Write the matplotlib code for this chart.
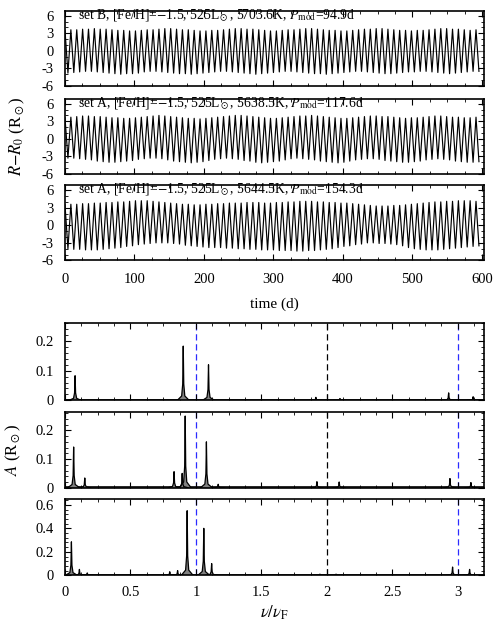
import numpy as np
import matplotlib.pyplot as plt
from matplotlib.ticker import MultipleLocator, FuncFormatter

plt.rcParams['font.family'] = ['Liberation Serif', 'DejaVu Serif']
plt.rcParams['mathtext.fontset'] = 'stix'
plt.rcParams['axes.unicode_minus'] = False

# ---- radius curves: extrema of each pulsation cycle (R - R0, Rsun)
period = 8.45   # days between successive maxima
t_start = 0.0

peaks_B = [3.5, 3.6, 3.6, 3.7, 3.7, 3.8, 3.7, 3.7, 3.6, 3.5, 3.5, 3.4, 3.4, 3.5, 3.6,
           3.6, 3.7, 3.8, 3.8, 3.7, 3.6, 3.6, 3.5, 3.4, 3.4, 3.5, 3.5, 3.6, 3.7, 3.8,
           3.8, 3.7, 3.7, 3.6, 3.5, 3.4, 3.4, 3.5, 3.6, 3.6, 3.7, 3.8, 3.8, 3.7, 3.6,
           3.5, 3.5, 3.4, 3.4, 3.5, 3.6, 3.7, 3.7, 3.8, 3.8, 3.7, 3.6, 3.5, 3.5, 3.4,
           3.5, 3.5, 3.6, 3.7, 3.8, 3.8, 3.7, 3.7, 3.6, 3.5, 3.6]
troughs_B = [-3.8, -3.7, -3.6, -3.5, -3.5, -3.6, -3.7, -3.8, -3.9, -4.0, -3.9, -3.9, -3.8,
             -3.6, -3.5, -3.5, -3.6, -3.7, -3.8, -3.9, -3.9, -4.0, -3.9, -3.8, -3.7, -3.6,
             -3.5, -3.5, -3.6, -3.7, -3.8, -3.9, -4.0, -3.9, -3.8, -3.7, -3.6, -3.5, -3.5,
             -3.6, -3.7, -3.8, -3.9, -3.9, -4.0, -3.9, -3.8, -3.7, -3.6, -3.5, -3.5, -3.6,
             -3.7, -3.8, -3.9, -3.9, -3.8, -3.7, -3.6, -3.6, -3.5, -3.5, -3.6, -3.7, -3.8,
             -3.9, -3.8, -3.7, -3.6, -3.5, -3.5]

peaks_A1 = [3.6, 3.7, 3.8, 3.9, 3.9, 3.8, 3.8, 3.7, 3.6, 3.6, 3.5, 3.5, 3.6, 3.7, 3.8,
            3.9, 4.0, 3.9, 3.8, 3.7, 3.6, 3.5, 3.5, 3.4, 3.5, 3.6, 3.7, 3.8, 3.9, 4.0,
            4.0, 3.9, 3.8, 3.7, 3.6, 3.5, 3.5, 3.6, 3.7, 3.8, 3.9, 3.9, 4.0, 3.9, 3.8,
            3.7, 3.6, 3.5, 3.5, 3.6, 3.7, 3.8, 3.9, 3.9, 3.8, 3.8, 3.7, 3.6, 3.5, 3.6,
            3.6, 3.7, 3.8, 3.9, 3.9, 3.8, 3.7, 3.7, 3.6, 3.6, 3.7]
troughs_A1 = [-3.3, -3.3, -3.4, -3.5, -3.6, -3.8, -3.9, -4.0, -4.0, -3.9, -3.8, -3.7, -3.5,
              -3.4, -3.3, -3.3, -3.4, -3.6, -3.8, -3.9, -4.0, -4.1, -4.0, -3.9, -3.7, -3.5,
              -3.4, -3.3, -3.4, -3.5, -3.7, -3.8, -4.0, -4.1, -4.0, -3.9, -3.8, -3.6, -3.4,
              -3.3, -3.4, -3.5, -3.6, -3.8, -3.9, -4.0, -4.1, -4.0, -3.8, -3.6, -3.5, -3.4,
              -3.4, -3.5, -3.7, -3.8, -3.9, -4.0, -4.0, -3.9, -3.8, -3.6, -3.5, -3.4, -3.5,
              -3.6, -3.8, -3.9, -4.0, -4.0, -3.9]

peaks_A2 = [3.5, 3.6, 3.6, 3.7, 3.7, 3.8, 3.8, 3.9, 3.9, 4.0, 4.0, 4.1, 4.2, 4.2, 4.2,
            4.1, 4.0, 3.9, 3.8, 3.7, 3.6, 3.6, 3.5, 3.5, 3.6, 3.6, 3.7, 3.7, 3.8, 3.8,
            3.8, 3.9, 3.9, 3.9, 3.8, 3.8, 3.9, 3.9, 4.0, 4.0, 4.1, 4.1, 4.1, 4.0, 4.0,
            3.9, 3.9, 3.8, 3.8, 3.7, 3.6, 3.5, 3.4, 3.3, 3.3, 3.3, 3.4, 3.4, 3.5, 3.6,
            3.7, 3.8, 3.9, 4.0, 4.0, 4.1, 4.1, 4.2, 4.2, 4.2, 4.1]
troughs_A2 = [-4.0, -4.1, -4.1, -4.2, -4.2, -4.2, -4.1, -4.0, -3.9, -3.8, -3.6, -3.5, -3.3,
              -3.2, -3.1, -3.0, -3.0, -3.0, -3.1, -3.2, -3.4, -3.5, -3.6, -3.7, -3.8, -3.8,
              -3.8, -3.9, -3.9, -4.0, -4.0, -4.1, -4.1, -4.2, -4.2, -4.2, -4.3, -4.3, -4.3,
              -4.4, -4.4, -4.3, -4.3, -4.2, -4.1, -4.0, -3.8, -3.6, -3.5, -3.3, -3.2, -3.0,
              -3.0, -3.1, -3.1, -3.2, -3.3, -3.5, -3.8, -4.0, -4.1, -4.2, -4.2, -4.2, -4.1,
              -4.0, -3.9, -3.8, -3.7, -3.6, -3.5]

labels_top = [r'set B, [Fe/H]=$-$1.5, 525L$_\odot$, 5703.6K, $P_{\rm mod}$=94.9d',
              r'set A, [Fe/H]=$-$1.5, 525L$_\odot$, 5638.5K, $P_{\rm mod}$=117.6d',
              r'set A, [Fe/H]=$-$1.5, 525L$_\odot$, 5644.5K, $P_{\rm mod}$=154.3d']

# ---- amplitude spectra: peak frequency (nu/nuF) and amplitude (Rsun)
nu_B = [0.077, 0.903, 1.096, 1.916, 2.10, 2.93, 3.117]
amp_B = [0.083, 0.183, 0.12, 0.01, 0.006, 0.025, 0.012]
nu_A1 = [0.066, 0.151, 0.833, 0.895, 0.918, 1.08, 1.17, 1.924, 2.094, 2.94, 3.10]
amp_A1 = [0.142, 0.034, 0.056, 0.05, 0.25, 0.16, 0.012, 0.021, 0.02, 0.032, 0.018]
nu_A2 = [0.049, 0.11, 0.17, 0.80, 0.86, 0.933, 1.06, 1.12, 1.947, 2.07, 2.96, 3.09]
amp_A2 = [0.285, 0.05, 0.02, 0.03, 0.04, 0.55, 0.40, 0.10, 0.01, 0.01, 0.07, 0.05]

harmonics = [1, 2, 3]
harm_colors = ['#2b2bff', 'black', '#2b2bff']

fig = plt.figure(figsize=(5, 6.29), dpi=100)


def style(ax):
    ax.tick_params(which='both', direction='in', top=True, right=True, labelsize=10.5)
    ax.tick_params(which='major', length=4, width=0.8, pad=8)
    ax.tick_params(which='minor', length=2, width=0.6)
    for s in ax.spines.values():
        s.set_linewidth(1.2)
    ax.yaxis.set_major_formatter(FuncFormatter(lambda v, p: '%g' % round(v, 3)))


# top: time series
top_bottoms = [0.8633, 0.7234, 0.5859]
series = [(peaks_B, troughs_B), (peaks_A1, troughs_A1), (peaks_A2, troughs_A2)]
for i, (pk, tr) in enumerate(series):
    ax = fig.add_axes([0.13, top_bottoms[i], 0.838, 0.1192])
    n = min(len(pk), len(tr))
    t = np.empty(2 * n)
    y = np.empty(2 * n)
    t[0::2] = t_start + period * np.arange(n)
    t[1::2] = t[0::2] + period / 2
    y[0::2] = pk[:n]
    y[1::2] = tr[:n]
    if i == 0:
        ax.axhline(0, color='0.6', lw=0.5)
    ax.plot(t, y, color='black', lw=0.85, zorder=2)
    ax.set_xlim(0, 603)
    ax.set_ylim(-6, 6.8)
    ax.xaxis.set_major_locator(MultipleLocator(100))
    ax.xaxis.set_minor_locator(MultipleLocator(25))
    ax.yaxis.set_major_locator(MultipleLocator(3))
    ax.yaxis.set_minor_locator(MultipleLocator(1))
    style(ax)
    ax.text(0.03, 0.94, labels_top[i], transform=ax.transAxes, fontsize=9.8,
            va='center', ha='left', zorder=5)
    if i < 2:
        ax.set_xticklabels([])
    else:
        ax.tick_params(axis='x', pad=9)

fig.text(0.549, 0.516, 'time (d)', ha='center', va='center', fontsize=11)
fig.text(0.034, 0.784, r'$R$$-$$R_0$ (R$_\odot$)', rotation=90, ha='center',
         va='center', fontsize=12)

# bottom: spectra
bot_boxes = [(0.3636, 0.1224, 0.26, 0.1), (0.2246, 0.1208, 0.265, 0.1),
             (0.0854, 0.1213, 0.65, 0.2)]
spectra = [(nu_B, amp_B), (nu_A1, amp_A1), (nu_A2, amp_A2)]
for i, (nus, amps) in enumerate(spectra):
    b, h, ytop, ymaj = bot_boxes[i]
    ax = fig.add_axes([0.13, b, 0.838, h])
    for f, c in zip(harmonics, harm_colors):
        ax.axvline(f, color=c, lw=0.9, dashes=(5, 3), zorder=1)
    ax.plot([0, 3.2], [0.002, 0.002], color='black', lw=1.2, zorder=2)
    for f, a in zip(nus, amps):
        xs = [f - 0.045, f - 0.012, f - 0.004, f, f + 0.004, f + 0.012, f + 0.045]
        ys = [0, 0.08 * a, 0.3 * a, a, 0.3 * a, 0.08 * a, 0]
        ax.fill(xs, ys, color='0.5', lw=0, zorder=2)
        ax.plot(xs, ys, color='black', lw=0.9, zorder=3)
    ax.set_xlim(0, 3.2)
    ax.set_ylim(0, ytop)
    ax.xaxis.set_major_locator(MultipleLocator(0.5))
    ax.xaxis.set_minor_locator(MultipleLocator(0.125))
    ax.yaxis.set_major_locator(MultipleLocator(ymaj))
    ax.yaxis.set_minor_locator(MultipleLocator(ymaj / 5))
    style(ax)
    if i < 2:
        ax.set_xticklabels([])
    else:
        ax.xaxis.set_major_formatter(FuncFormatter(lambda v, p: '%g' % v))
        ax.tick_params(axis='x', pad=7.5)

fig.text(0.549, 0.026, r'$\nu/\nu_{\rm F}$', ha='center', va='center', fontsize=12)
fig.text(0.026, 0.285, r'$A$ (R$_\odot$)', rotation=90, ha='center', va='center',
         fontsize=12)

fig.savefig('out.png', dpi=100)
